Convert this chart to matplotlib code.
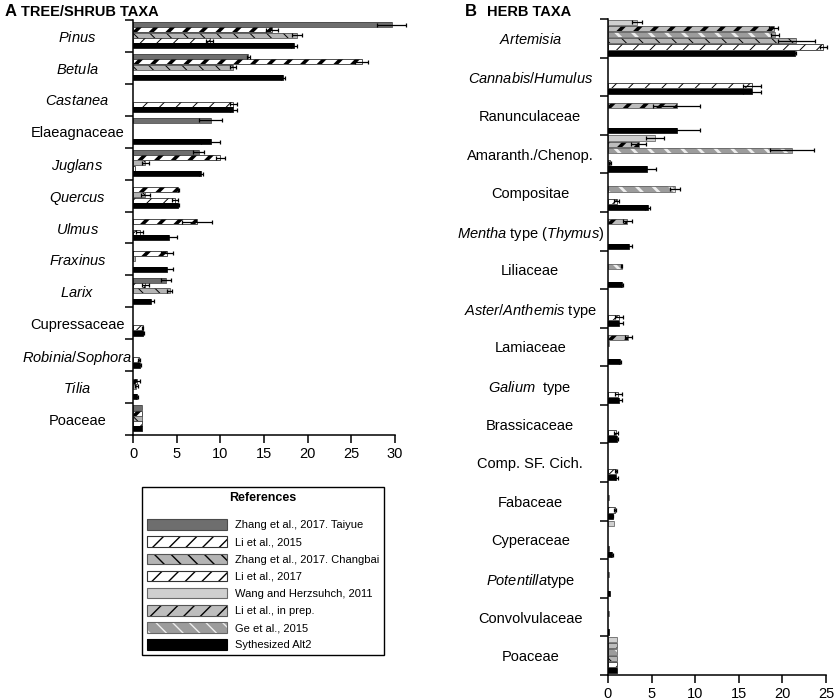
import matplotlib
matplotlib.use("Agg")
import matplotlib.pyplot as plt
import matplotlib.patches as mpatches
import numpy as np

plt.rcParams['font.family'] = ['Liberation Sans', 'DejaVu Sans']
plt.rcParams['mathtext.fontset'] = 'custom'
plt.rcParams['mathtext.rm'] = 'Liberation Sans'
plt.rcParams['mathtext.it'] = 'Liberation Sans:italic'

# ---- panel A: tree / shrub taxa ----
tree_taxa = [r'$\mathit{Pinus}$', r'$\mathit{Betula}$', r'$\mathit{Castanea}$', 'Elaeagnaceae',
             r'$\mathit{Juglans}$', r'$\mathit{Quercus}$', r'$\mathit{Ulmus}$', r'$\mathit{Fraxinus}$',
             r'$\mathit{Larix}$', 'Cupressaceae', r'$\mathit{Robinia/Sophora}$', r'$\mathit{Tilia}$',
             'Poaceae']
taiyue_a = [29.6, 13.2, 0, 8.9, 7.5, 0, 0, 0, 3.8, 0, 0, 0, 1.0]
taiyue_a_err = [1.7, 0.2, 0, 1.3, 0.6, 0, 0, 0, 0.6, 0, 0, 0, 0]
li2015_a = [15.9, 26.2, 0, 0, 10.0, 5.2, 7.3, 3.85, 1.4, 0, 0, 0.5, 1.0]
li2015_a_err = [0.7, 0.75, 0, 0, 0.5, 0.1, 1.7, 0.7, 0.4, 0, 0, 0.3, 0]
changbai_a = [18.75, 11.5, 0, 0, 1.4, 1.4, 0, 0.2, 4.2, 0, 0, 0.4, 1.0]
changbai_a_err = [0.6, 0.35, 0, 0, 0.4, 0.5, 0, 0, 0.3, 0, 0, 0.2, 0]
li2017_a = [8.8, 0, 11.5, 0, 0.2, 4.8, 0.8, 0, 0, 1.1, 0.7, 0, 1.0]
li2017_a_err = [0.4, 0, 0.4, 0, 0, 0.3, 0.4, 0, 0, 0.1, 0.1, 0, 0]
synth_a = [18.4, 17.15, 11.5, 8.9, 7.8, 5.2, 4.1, 3.85, 2.1, 1.2, 0.8, 0.5, 1.0]
synth_a_err = [0.35, 0.2, 0.4, 1.1, 0.2, 0.1, 0.9, 0.7, 0.3, 0.1, 0.1, 0.1, 0]

# ---- panel B: herb taxa ----
herb_taxa = [r'$\mathit{Artemisia}$', r'$\mathit{Cannabis/Humulus}$', 'Ranunculaceae',
             'Amaranth./Chenop.', 'Compositae', r'$\mathit{Mentha}$ type $\mathit{(Thymus)}$',
             'Liliaceae', r'$\mathit{Aster/Anthemis}$ type', 'Lamiaceae', r'$\mathit{Galium}$  type',
             'Brassicaceae', 'Comp. SF. Cich.', 'Fabaceae', 'Cyperaceae', r'$\mathit{Potentilla}$type',
             'Convolvulaceae', 'Poaceae']
wang_b = [3.3, 0, 0, 5.4, 0, 0, 0, 0, 0, 0, 0, 0, 0, 0.7, 0, 0, 1.0]
wang_b_err = [0.55, 0, 0, 1.05, 0, 0, 0, 0, 0, 0, 0, 0, 0, 0, 0, 0, 0]
liprep_b = [19.0, 0, 7.9, 3.5, 0, 2.2, 0, 0, 2.3, 0, 0, 0, 0, 0, 0, 0, 1.0]
liprep_b_err = [0.5, 0, 2.7, 0.9, 0, 0.5, 0, 0, 0.4, 0, 0, 0, 0, 0, 0, 0, 0]
ge_b = [19.15, 0, 0, 21.1, 7.7, 0, 1.55, 0, 0.15, 0, 0, 0, 0.15, 0, 0.15, 0.1, 1.0]
ge_b_err = [0.5, 0, 0, 2.5, 0.55, 0, 0.1, 0, 0, 0, 0, 0, 0, 0, 0, 0, 0]
changbai_b = [21.6, 0, 0, 0, 0, 0, 0, 0, 0, 0, 0, 0, 0, 0, 0, 0, 1.0]
changbai_b_err = [2.1, 0, 0, 0, 0, 0, 0, 0, 0, 0, 0, 0, 0, 0, 0, 0, 0]
li2017_b = [24.7, 16.5, 0, 0.2, 1.0, 0, 0, 1.25, 0, 1.2, 0.92, 0.92, 0.8, 0.1, 0, 0, 1.0]
li2017_b_err = [0.4, 1.0, 0, 0.1, 0.3, 0, 0, 0.5, 0, 0.4, 0.2, 0.15, 0.15, 0, 0, 0, 0]
synth_b = [21.4, 16.5, 7.9, 4.5, 4.55, 2.4, 1.6, 1.26, 1.38, 1.3, 0.99, 0.95, 0.53, 0.5, 0.2, 0.15, 1.0]
synth_b_err = [0.2, 1.0, 2.7, 0.95, 0.25, 0.3, 0.1, 0.45, 0.1, 0.3, 0.15, 0.15, 0.1, 0.1, 0, 0, 0]

ref_labels = ['Zhang et al., 2017. Taiyue', 'Li et al., 2015', 'Zhang et al., 2017. Changbai',
              'Li et al., 2017', 'Wang and Herzsuhch, 2011', 'Li et al., in prep.',
              'Ge et al., 2015', 'Sythesized Alt2']

# face, hatch, hatch colour, hatch width, outline
styles = {
    'taiyue':   ('#6e6e6e', None,  None,      0,   '#4a4a4a'),
    'li2015':   ('#ffffff', '//',  'black',   2.6, '#333333'),
    'changbai': ('#b4b4b4', '\\\\', 'black',  0.7, '#555555'),
    'li2017':   ('#ffffff', '//',  'black',   0.7, '#333333'),
    'wang':     ('#cfcfcf', None,  None,      0,   '#6a6a6a'),
    'liprep':   ('#bdbdbd', '//',  'black',   2.6, '#555555'),
    'ge':       ('#9c9c9c', '\\\\', '#eeeeee', 2.0, '#666666'),
    'synth':    ('#000000', None,  None,      0,   '#000000'),
}
style_order = ['taiyue', 'li2015', 'changbai', 'li2017', 'wang', 'liprep', 'ge', 'synth']


def set_hlw(patch, lw):
    if hasattr(patch, 'set_hatch_linewidth'):
        patch.set_hatch_linewidth(lw)


def draw_series(ax, centers, vals, errs, height, key):
    face, hatch, hcol, hlw, edge = styles[key]
    vals = np.asarray(vals, float)
    errs = np.asarray(errs, float)
    m = vals > 0
    y = centers[m]
    w = vals[m]
    with plt.rc_context({'hatch.linewidth': max(hlw, 0.1)}):
        bars = ax.barh(y, w, height=height, color=face, edgecolor=hcol or face,
                       linewidth=0, hatch=hatch)
    if hatch:
        for b in bars:
            set_hlw(b, hlw)
    ax.barh(y, w, height=height, fill=False, edgecolor=edge, linewidth=0.6)
    e = errs[m]
    k = e > 0
    if k.any():
        eb = ax.errorbar(w[k], y[k], xerr=e[k], fmt='none', ecolor='black',
                         elinewidth=0.9, capsize=1.4, capthick=0.9)
        for art in eb.lines[1] + eb.lines[2]:
            art.set_clip_on(False)


def setup_axis(ax, labels, xmax, pad):
    n = len(labels)
    ax.set_xlim(0, xmax)
    ax.set_ylim(n, 0)
    ax.set_yticks(np.arange(n) + 0.5)
    ax.set_yticklabels(labels)
    ax.set_yticks(np.arange(n + 1), minor=True)
    ax.tick_params(axis='y', which='major', length=0, pad=pad, labelsize=10.5)
    ax.tick_params(axis='y', which='minor', length=6, width=1.1)
    for t in ax.get_yticklabels():
        t.set_ha('center')
    ax.set_xticks(np.arange(0, xmax + 1, 5))
    ax.tick_params(axis='x', length=6, width=1.1, labelsize=10.5, pad=3)
    for s in ['top', 'right']:
        ax.spines[s].set_visible(False)
    for s in ['left', 'bottom']:
        ax.spines[s].set_linewidth(1.1)


fig = plt.figure(figsize=(8.36, 7.0), dpi=100)
axA = fig.add_axes([133 / 836, 1 - 435 / 700, 262 / 836, 415 / 700])
axB = fig.add_axes([608 / 836, 1 - 675 / 700, 218 / 836, 656 / 700])

# panel A: 5 bars per taxon
nA = len(tree_taxa)
hA = 5.0 / 32
series_a = [('taiyue', taiyue_a, taiyue_a_err), ('li2015', li2015_a, li2015_a_err),
            ('changbai', changbai_a, changbai_a_err), ('li2017', li2017_a, li2017_a_err),
            ('synth', synth_a, synth_a_err)]
for k, (key, v, e) in enumerate(series_a):
    centers = np.arange(nA) + (4.7 + 5.3 * k) / 32
    draw_series(axA, centers, v, e, hA, key)
setup_axis(axA, tree_taxa, 30, 40)

# panel B: 6 bars per taxon
nB = len(herb_taxa)
hB = 5.2 / 38.6
series_b = [('wang', wang_b, wang_b_err), ('liprep', liprep_b, liprep_b_err),
            ('ge', ge_b, ge_b_err), ('changbai', changbai_b, changbai_b_err),
            ('li2017', li2017_b, li2017_b_err), ('synth', synth_b, synth_b_err)]
for k, (key, v, e) in enumerate(series_b):
    centers = np.arange(nB) + (3.2 + 6.2 * k) / 38.6
    draw_series(axB, centers, v, e, hB, key)
setup_axis(axB, herb_taxa, 25, 56)

# titles
fig.text(5 / 836, 1 - 12 / 700, 'A', fontsize=12, fontweight='bold', va='center')
fig.text(21 / 836, 1 - 12 / 700, 'TREE/SHRUB TAXA', fontsize=10.5, fontweight='bold', va='center')
fig.text(465 / 836, 1 - 12 / 700, 'B', fontsize=12, fontweight='bold', va='center')
fig.text(487 / 836, 1 - 12 / 700, 'HERB TAXA', fontsize=10.5, fontweight='bold', va='center')

# legend
handles = []
for key in style_order:
    face, hatch, hcol, hlw, edge = styles[key]
    with plt.rc_context({'hatch.linewidth': max(hlw, 0.1)}):
        p1 = mpatches.Patch(facecolor=face, edgecolor=hcol or face, linewidth=0, hatch=hatch)
    if hatch:
        set_hlw(p1, hlw)
    p2 = mpatches.Patch(fill=False, edgecolor=edge, linewidth=0.8)
    handles.append((p1, p2))

leg = fig.legend(handles, ref_labels, loc='upper left',
                 bbox_to_anchor=(142 / 836, 1 - 487 / 700 - 0.01, 242 / 836, 0.01),
                 mode='expand', title='References', frameon=True, fancybox=False,
                 edgecolor='black', framealpha=1, handlelength=7.2, handleheight=1.08,
                 handletextpad=0.7, labelspacing=0.55, borderpad=0.45, borderaxespad=0,
                 prop={'family': 'Liberation Sans', 'size': 8},
                 title_fontproperties={'weight': 'bold', 'size': 9})
leg.get_frame().set_linewidth(1.0)
leg._legend_box.sep = 11

fig.savefig('out.png', dpi=100)
